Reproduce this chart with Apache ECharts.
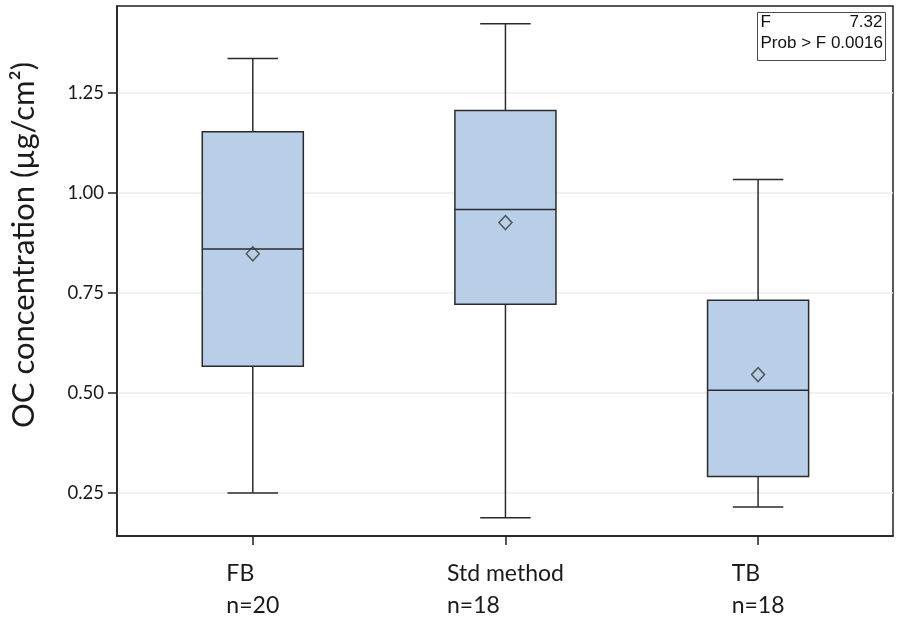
<!DOCTYPE html>
<html lang="en">

<head>
    <meta charset="UTF-8">
    <style>
    html,
    body {
        height: 100%;
        margin: 0;
        background: #fff;
    }
  </style>
</head>

<body>
<div id="chart" style="width:897px;height:626px;"></div>
<script src="https://cdn.jsdelivr.net/npm/echarts@6/dist/echarts.min.js"></script>
<script>
    // groups along x, with sample size under each label
    var categories = ['FB', 'Std method', 'TB'];
    var counts = [20, 18, 18];

    // box statistics (µg/cm²)
    var whiskerLow = [0.250, 0.188, 0.215];
    var q1 = [0.567, 0.722, 0.291];
    var median = [0.860, 0.959, 0.507];
    var q3 = [1.153, 1.206, 0.732];
    var whiskerHigh = [1.336, 1.423, 1.034];
    var means = [0.848, 0.926, 0.546];

    var yTicks = [0.25, 0.50, 0.75, 1.00, 1.25];
    var fValue = '7.32';
    var probF = '0.0016';

    var boxData = [];
    var meanData = [];
    for (var i = 0; i < categories.length; i++) {
        boxData.push([i + 1, whiskerLow[i], q1[i], median[i], q3[i], whiskerHigh[i]]);
        meanData.push([i + 1, means[i]]);
    }

    var lineCol = '#2b2b2b';

    function renderBox(params, api) {
        var x = api.value(0);
        var pLow = api.coord([x, api.value(1)]);
        var pQ1 = api.coord([x, api.value(2)]);
        var pMed = api.coord([x, api.value(3)]);
        var pQ3 = api.coord([x, api.value(4)]);
        var pHigh = api.coord([x, api.value(5)]);
        var w = api.size([1, 0])[0] * 0.4;
        var cx = pMed[0];
        var ln = { stroke: lineCol, lineWidth: 1.5 };
        return {
            type: 'group',
            children: [
                { type: 'line', shape: { x1: cx, y1: pQ3[1], x2: cx, y2: pHigh[1] }, style: ln },
                { type: 'line', shape: { x1: cx - w / 4, y1: pHigh[1], x2: cx + w / 4, y2: pHigh[1] }, style: ln },
                { type: 'line', shape: { x1: cx, y1: pQ1[1], x2: cx, y2: pLow[1] }, style: ln },
                { type: 'line', shape: { x1: cx - w / 4, y1: pLow[1], x2: cx + w / 4, y2: pLow[1] }, style: ln },
                { type: 'rect', shape: { x: cx - w / 2, y: pQ3[1], width: w, height: pQ1[1] - pQ3[1] },
                  style: { fill: '#b9cfe8', stroke: lineCol, lineWidth: 1.5 } },
                { type: 'line', shape: { x1: cx - w / 2, y1: pMed[1], x2: cx + w / 2, y2: pMed[1] }, style: ln }
            ]
        };
    }

    var myChart = echarts.init(document.getElementById('chart'));
    myChart.setOption({
        animation: false,
        textStyle: { fontFamily: 'Lato' },
        grid: {
            left: 116,
            right: 4,
            top: 6,
            bottom: 90,
            show: true,
            borderColor: '#1f1f1f',
            borderWidth: 1.5
        },
        xAxis: {
            type: 'value',
            min: 0.4625,
            max: 3.534,
            axisLine: { show: true, lineStyle: { color: '#1f1f1f', width: 1.5 } },
            axisTick: { show: true, length: 9, customValues: [1, 2, 3], lineStyle: { color: '#1f1f1f', width: 1.5 } },
            splitLine: { show: false },
            axisLabel: {
                customValues: [1, 2, 3],
                margin: 22,
                color: '#1a1a1a',
                fontSize: 23,
                lineHeight: 32,
                formatter: function (v) {
                    var k = Math.round(v) - 1;
                    return '{a|' + categories[k] + '}\n{a|n=' + counts[k] + '}';
                },
                rich: {
                    a: { align: 'left', fontSize: 23, lineHeight: 32, color: '#1a1a1a', fontFamily: 'Lato' }
                }
            }
        },
        yAxis: {
            type: 'value',
            min: 0.1425,
            max: 1.4675,
            name: 'OC concentration (µg/cm²)',
            nameLocation: 'middle',
            nameRotate: 90,
            nameGap: 78,
            nameTextStyle: { fontSize: 31, color: '#1a1a1a', padding: [0, 0, 0, 52] },
            axisLine: { show: true, lineStyle: { color: '#1f1f1f', width: 1.5 } },
            axisTick: { show: true, length: 9, customValues: yTicks, lineStyle: { color: '#1f1f1f', width: 1.5 } },
            axisLabel: {
                customValues: yTicks,
                margin: 13,
                fontSize: 18.5,
                color: '#1a1a1a',
                formatter: function (v) { return v.toFixed(2); }
            },
            splitLine: { show: true, lineStyle: { color: '#ececec', width: 1.5 } }
        },
        series: [
            {
                type: 'custom',
                renderItem: renderBox,
                encode: { x: 0, y: [1, 2, 3, 4, 5] },
                data: boxData,
                z: 2
            },
            {
                type: 'scatter',
                data: meanData,
                symbol: 'diamond',
                symbolSize: [13, 14],
                itemStyle: { color: 'rgba(0,0,0,0)', borderColor: '#3a3a3a', borderWidth: 1.5 },
                z: 3
            }
        ],
        graphic: [
            {
                type: 'group',
                right: 11,
                top: 12,
                children: [
                    { type: 'rect', shape: { x: 0, y: 0, width: 128, height: 48 },
                      style: { fill: '#fff', stroke: '#4a4a4a', lineWidth: 1 } },
                    { type: 'text', x: 3, y: 10,
                      style: { text: 'F', fontSize: 17, fontFamily: 'Liberation Sans', fill: '#111', verticalAlign: 'middle' } },
                    { type: 'text', x: 125, y: 10,
                      style: { text: fValue, fontSize: 17, fontFamily: 'Liberation Sans', fill: '#111', align: 'right', verticalAlign: 'middle' } },
                    { type: 'text', x: 3, y: 31,
                      style: { text: 'Prob > F ' + probF, fontSize: 17, fontFamily: 'Liberation Sans', fill: '#111', verticalAlign: 'middle' } }
                ]
            }
        ]
    });
</script>
</body>
</html>
